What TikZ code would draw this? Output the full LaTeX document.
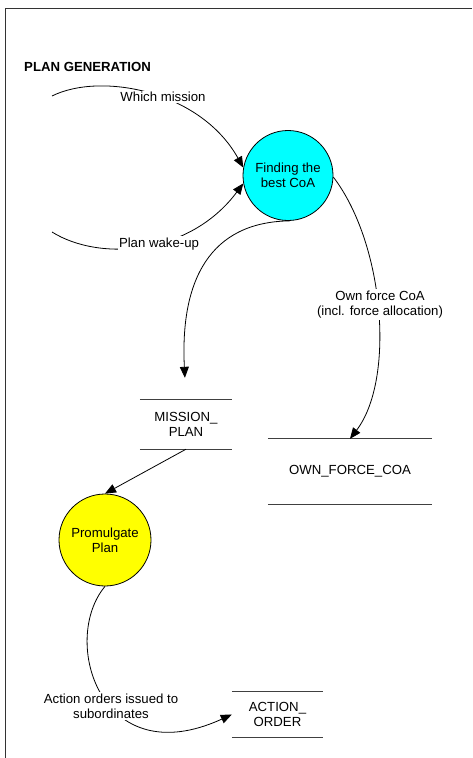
\documentclass[tikz,border=0pt]{standalone}
\usepackage{fontspec}
\setmainfont{Liberation Sans}
\usetikzlibrary{arrows.meta}
\definecolor{procaqua}{RGB}{0,255,255}
\definecolor{procyellow}{RGB}{255,255,0}
\begin{document}
\begin{tikzpicture}[x=1pt,y=-1pt,
  every node/.style={font=\fontsize{13.2}{15}\selectfont, text=black},
  process/.style={circle, draw=black, line width=0.8pt, minimum size=#1, inner sep=0pt, align=center},
  datastore/.style={inner sep=0pt, align=center},
  flow/.style={draw=black, line width=0.8pt, -{Triangle[length=11pt,width=9pt]}},
  flowlabel/.style={fill=white, inner sep=1.5pt, align=center},
  storeline/.style={draw=black!75, line width=0.9pt},
  frame/.style={draw=black!80, line width=0.9pt}]

\useasboundingbox (0,0) rectangle (472,758);

% page frame (top and left edges)
\draw[frame] (472,8.5) -- (5,8.5) -- (5,758);

% title
\node[font=\bfseries\fontsize{13.2}{15}\selectfont, anchor=west, inner sep=0pt] (title) at (24,67) {PLAN GENERATION};

% processes
\node[process=90pt, fill=procaqua] (fc) at (288,175.5) {Finding the\\best CoA};
\node[process=92pt, fill=procyellow] (pp) at (105,540) {Promulgate\\Plan};

% data stores
\node[datastore, minimum width=92pt, minimum height=49pt] (mp) at (186,424.5) {MISSION\_\\PLAN};
\node[datastore, minimum width=164pt, minimum height=65pt] (ofc) at (350,471.5) {OWN\_FORCE\_COA};
\node[datastore, minimum width=91pt, minimum height=45pt] (ao) at (277.5,714.5) {ACTION\_\\ORDER};
\foreach \s in {mp,ofc,ao}{
  \draw[storeline] (\s.north west) -- (\s.north east);
  \draw[storeline] (\s.south west) -- (\s.south east);
}

% external inputs
\coordinate (src1) at (52,96);
\coordinate (src2) at (52,232);

% flows
\draw[flow] (src1) .. controls (100,72) and (200,90) .. (fc.170);
\draw[flow] (src2) .. controls (100,262) and (190,255) .. (fc.190);
\draw[flow, shorten >=22pt] (fc.272) .. controls (210,222) and (180,280) .. (mp.north);
\draw[flow] (fc.358) .. controls (385,245) and (395,380) .. (ofc.north);
\draw[flow] (mp.south) -- (pp.north);
\draw[flow] (pp.south) .. controls (60,640) and (100,775) .. (ao.west);

% flow labels
\node[flowlabel] (lwm) at (163,97) {Which mission};
\node[flowlabel] (lwu) at (159,244) {Plan wake-up};
\node[flowlabel] (lofc) at (380,304.5) {Own force CoA\\(incl. force allocation)};
\node[flowlabel] (lao) at (111,706) {Action orders issued to\\subordinates};

\end{tikzpicture}
\end{document}
